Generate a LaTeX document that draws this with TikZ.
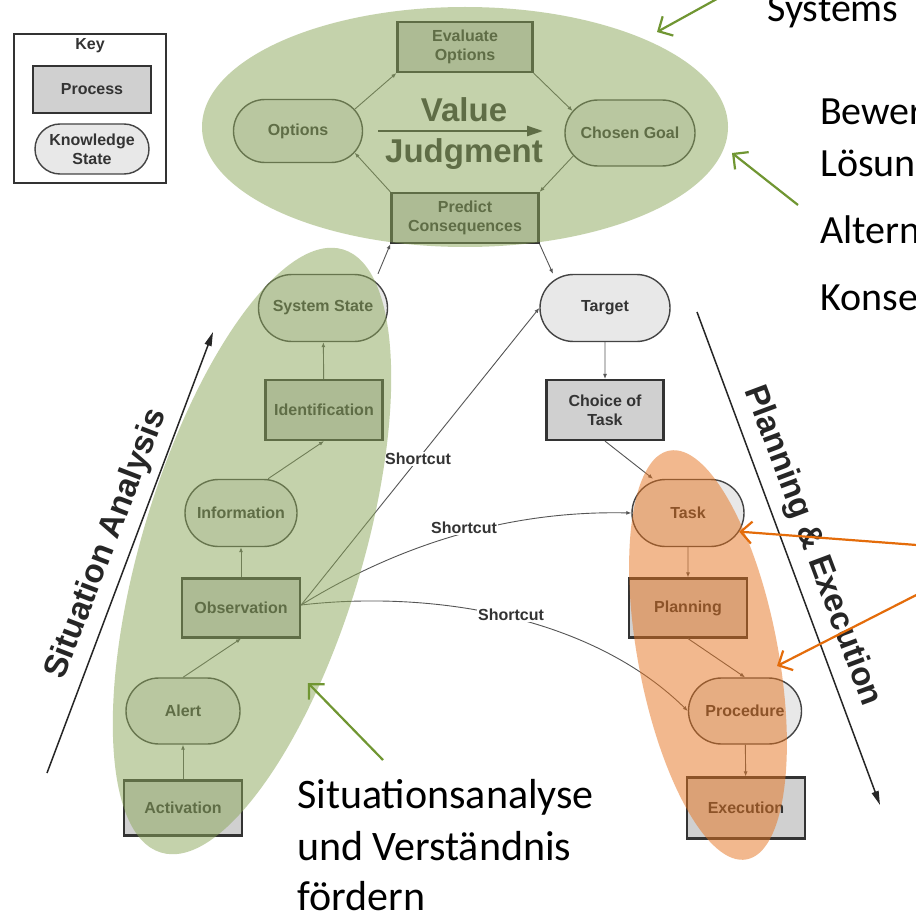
\documentclass[tikz,border=0pt]{standalone}
\usepackage{fontspec}
\setmainfont{Carlito}
\setsansfont{Liberation Sans}
\usetikzlibrary{shapes.misc,arrows.meta,calc}
\definecolor{procfill}{RGB}{208,208,208}
\definecolor{ksfill}{RGB}{232,232,232}
\definecolor{boxborder}{RGB}{51,51,51}
\definecolor{ksborder}{RGB}{68,68,68}
\definecolor{txt}{RGB}{51,51,51}
\definecolor{conncol}{RGB}{85,85,85}
\definecolor{ovgreen}{RGB}{139,167,89}
\definecolor{ovorange}{RGB}{230,115,30}
\definecolor{angreen}{RGB}{112,150,50}
\definecolor{anorange}{RGB}{228,108,10}
\begin{document}
\begin{tikzpicture}[x=1pt,y=-1pt,
  nfont/.style={font=\sffamily\bfseries\fontsize{16}{19}\selectfont},
  proc/.style={rectangle, draw=boxborder, line width=2.2pt, fill=procfill, text=txt, nfont, align=center, inner sep=2pt},
  ks/.style={rounded rectangle, draw=ksborder, line width=1.4pt, fill=ksfill, text=txt, nfont, align=center, inner sep=2pt},
  conn/.style={draw=conncol, line width=0.9pt, -{Latex[length=5pt,width=4pt]}},
  sclabel/.style={fill=white, inner sep=1pt, text=txt, nfont},
  bigarrow/.style={draw=black!85, line width=1.5pt, -{Triangle[length=14pt,width=7pt]}},
  sidetext/.style={font=\sffamily\bfseries\fontsize{33}{38}\selectfont, text=black!85},
  annot/.style={font=\fontsize{42}{51}\selectfont, anchor=base west, inner sep=0pt, text=black},
  annotr/.style={font=\fontsize{40}{49}\selectfont, anchor=base west, inner sep=0pt, text=black},
  garrow/.style={draw=angreen, line width=2.2pt, -{Straight Barb[length=11pt,width=22pt,line width=2.2pt]}},
  oarrow/.style={draw=anorange, line width=2.2pt, -{Straight Barb[length=11pt,width=22pt,line width=2.2pt]}}
]
\useasboundingbox (0,0) rectangle (916,915);
\clip (0,0) rectangle (916,915);
\fill[white] (0,0) rectangle (916,915);

% Key
\node[draw=boxborder, line width=2pt, minimum width=152pt, minimum height=149pt, inner sep=0pt] (key) at (90,108.5) {};
\node[nfont, text=txt] (keyt) at (90,46) {Key};
\node[proc, minimum width=118pt, minimum height=47pt] (kp) at (92,89.5) {Process};
\node[ks, minimum width=118pt, minimum height=50pt] (kks) at (92,149) {Knowledge\\State};

% Value judgment cycle
\node[proc, minimum width=135pt, minimum height=50pt] (eval) at (465,47) {Evaluate\\Options};
\node[ks, minimum width=133pt, minimum height=63pt] (opt) at (298,131) {Options};
\node[ks, minimum width=134pt, minimum height=66pt] (cg) at (630,133) {Chosen Goal};
\node[proc, minimum width=147pt, minimum height=50pt] (pc) at (465,218) {Predict\\Consequences};
\node[anchor=base, font=\sffamily\bfseries\fontsize{33}{38}\selectfont, text=txt, inner sep=0pt] (val) at (464,122) {Value};
\node[anchor=base, font=\sffamily\bfseries\fontsize{33}{38}\selectfont, text=txt, inner sep=0pt] (jud) at (464,163) {Judgment};
\coordinate (vja) at (378,131);
\coordinate (vjb) at (543,131);
\draw[draw=txt, line width=2.4pt, -{Triangle[length=16pt,width=10pt]}] (vja) -- (vjb);
\draw[conn] (opt.21) -- (eval.south west);
\draw[conn] (eval.south east) -- (cg.159);
\draw[conn] (pc.north west) -- (opt.339);
\draw[conn] (cg.202) -- (pc.north east);

% Situation analysis column
\node[ks, minimum width=133pt, minimum height=67pt] (ss) at (323,308) {System State};
\node[proc, minimum width=117pt, minimum height=60pt] (ident) at (324,410) {Identification};
\node[ks, minimum width=116pt, minimum height=67pt] (info) at (241,513) {Information};
\node[proc, minimum width=118pt, minimum height=59pt] (obs) at (241,608) {Observation};
\node[ks, minimum width=118pt, minimum height=66pt] (alert) at (183,711) {Alert};
\node[proc, minimum width=118pt, minimum height=55pt] (act) at (183,808) {Activation};

% Planning column
\node[ks, minimum width=134pt, minimum height=67pt] (tg) at (605,308) {Target};
\node[proc, minimum width=117pt, minimum height=60pt] (ct) at (605,410) {Choice of\\Task};
\node[ks, minimum width=116pt, minimum height=67pt] (task) at (688,513) {Task};
\node[proc, minimum width=118pt, minimum height=59pt] (plan) at (688,608) {Planning};
\node[ks, minimum width=117pt, minimum height=66pt] (proc) at (745,711) {Procedure};
\node[proc, minimum width=118pt, minimum height=61pt] (exec) at (746,808) {Execution};

% connectors
\draw[conn] (act) -- (alert);
\draw[conn] (alert.north) -- (obs.south);
\draw[conn] (obs) -- (info);
\draw[conn] ([xshift=27pt]info.north) -- (ident.south);
\draw[conn] (ident) -- (ss);
\draw[conn] ([xshift=55pt]ss.north) -- (pc.south west);
\draw[conn] (pc.south east) -- ([xshift=-52pt]tg.north);
\draw[conn] (tg) -- (ct);
\draw[conn] (ct.south) -- ([xshift=-35pt]task.north);
\draw[conn] (task) -- (plan);
\draw[conn] (plan.south) -- (proc.north);
\draw[conn] (proc) -- (exec);

% shortcuts
\coordinate (obsE) at ([yshift=3pt]obs.east);
\draw[conn] (obsE) -- (tg.west);
\draw[conn] (obsE) .. controls (390,550) and (500,510) .. (task.west);
\draw[conn] (obsE) .. controls (430,590) and (590,615) .. (proc.west);
\node[sclabel] (sc1) at (418,459) {Shortcut};
\node[sclabel] (sc2) at (464,528) {Shortcut};
\node[sclabel] (sc3) at (511,615) {Shortcut};

% overlays
\fill[ovgreen, fill opacity=0.5] (465,127) ellipse [x radius=263pt, y radius=120pt];
\fill[ovgreen, fill opacity=0.5, rotate around={73.2:(252,551)}] (252,551) ellipse [x radius=315pt, y radius=110pt];
\fill[ovorange, fill opacity=0.5, rotate around={100.7:(708,655)}] (708,655) ellipse [x radius=208pt, y radius=70pt];

% side arrows
\coordinate (sa1) at (47,773);
\coordinate (sa2) at (213,332);
\draw[bigarrow] (sa1) -- (sa2);
\node[sidetext, rotate=69] (sat) at (107,544) {Situation Analysis};
\coordinate (pe1) at (697,312);
\coordinate (pe2) at (880,805);
\draw[bigarrow] (pe1) -- (pe2);
\node[sidetext, rotate=-69.5] (pet) at (812,546) {Planning \& Execution};

% annotation texts
\node[annotr] (t1) at (767,22) {Systems};
\node[annotr] (t2) at (820,125) {Bewer};
\node[annotr] (t3) at (820,177) {Lösun};
\node[annotr] (t4) at (820,243) {Altern};
\node[annotr] (t5) at (820,310) {Konse};
\node[annot] (t6) at (297,808) {Situationsanalyse};
\node[annot] (t7) at (297,860) {und Verständnis};
\node[annot] (t8) at (297,910) {fördern};

% annotation arrows
\coordinate (g1a) at (724,-5);
\coordinate (g1b) at (657,32);
\draw[garrow] (g1a) -- (g1b);
\coordinate (g2a) at (798,205);
\coordinate (g2b) at (732,153);
\draw[garrow] (g2a) -- (g2b);
\coordinate (g3a) at (383,760);
\coordinate (g3b) at (308,683);
\draw[garrow] (g3a) -- (g3b);
\coordinate (o1a) at (930,546);
\draw[oarrow] (o1a) -- (task.340);
\coordinate (o2a) at (930,588);
\coordinate (o2b) at (777,666);
\draw[oarrow] (o2a) -- (o2b);
\end{tikzpicture}
\end{document}
